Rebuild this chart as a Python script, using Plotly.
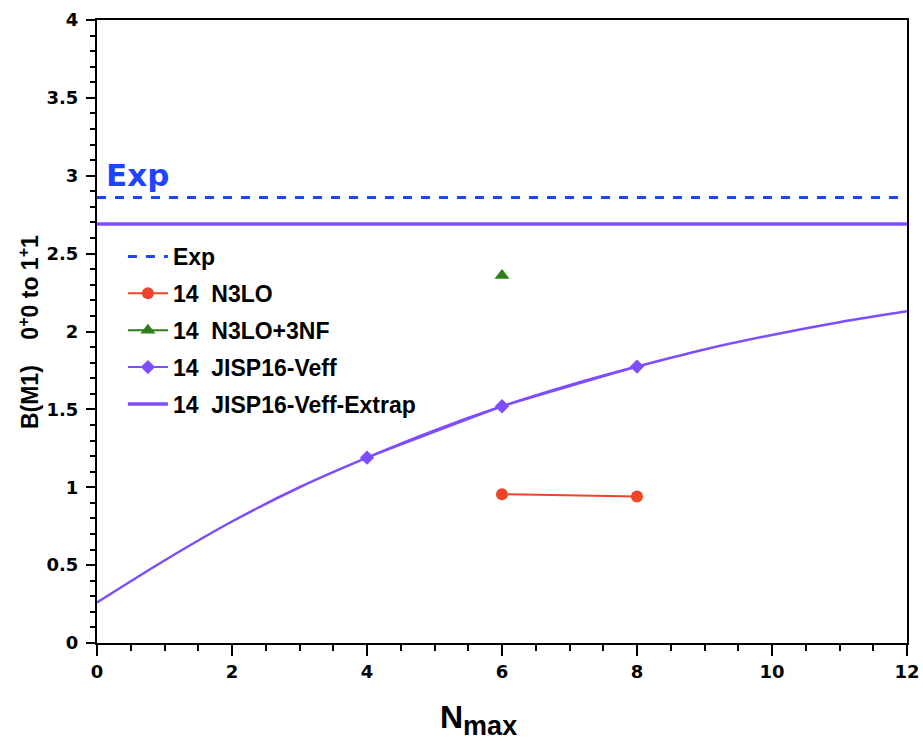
import plotly.graph_objects as go

# Nmax grid and B(M1) results
exp_value = 2.86
extrap_limit = 2.69

n3lo_nmax = [6, 8]
n3lo_bm1 = [0.955, 0.94]

n3lo3nf_nmax = [6]
n3lo3nf_bm1 = [2.36]

jisp_nmax = [4, 6, 8]
jisp_bm1 = [1.19, 1.52, 1.775]

# extrapolation curve, sampled at each Nmax
curve_nmax = [0, 1, 2, 3, 4, 5, 6, 7, 8, 9, 10, 11, 12]
curve_bm1 = [0.26, 0.53, 0.78, 1.0, 1.19, 1.365, 1.52, 1.655, 1.775, 1.885, 1.978, 2.06, 2.13]

x_range = [0, 12]
x_ticks = [0, 2, 4, 6, 8, 10, 12]
x_tick_labels = ["0", "2", "4", "6", "8", "10", "12"]
y_ticks = [0, 0.5, 1, 1.5, 2, 2.5, 3, 3.5, 4]
y_tick_labels = ["0", "0.5", "1", "1.5", "2", "2.5", "3", "3.5", "4"]

BLUE = "#1f44ff"
PURPLE = "#7d4dff"
RED = "#ec4528"
GREEN = "#2f7d18"
FONT = "Liberation Sans, Arial, Helvetica, sans-serif"
WIDE = "DejaVu Sans, Verdana, sans-serif"


def bold(s):
    return "<b>" + s + "</b>"


fig = go.Figure()

fig.add_trace(go.Scatter(
    x=x_range, y=[exp_value, exp_value], mode="lines", name=bold("Exp"), legendgroup="a",
    line=dict(color=BLUE, width=3, dash="dash"),
))
fig.add_trace(go.Scatter(
    x=n3lo_nmax, y=n3lo_bm1, mode="lines+markers", name=bold("14  N3LO"), legendgroup="b",
    line=dict(color=RED, width=2), marker=dict(symbol="circle", size=12, color=RED),
))
fig.add_trace(go.Scatter(
    x=n3lo3nf_nmax, y=n3lo3nf_bm1, mode="lines+markers", name=bold("14  N3LO+3NF"), legendgroup="c",
    line=dict(color=GREEN, width=2), marker=dict(symbol="triangle-up", size=13, color=GREEN),
))
fig.add_trace(go.Scatter(
    x=jisp_nmax, y=jisp_bm1, mode="lines+markers", name=bold("14  JISP16-Veff"), legendgroup="d",
    line=dict(color=PURPLE, width=2), marker=dict(symbol="diamond", size=11, color=PURPLE),
))
fig.add_trace(go.Scatter(
    x=x_range, y=[extrap_limit, extrap_limit], mode="lines", name=bold("14  JISP16-Veff-Extrap"), legendgroup="e",
    line=dict(color=PURPLE, width=3.5),
))
fig.add_trace(go.Scatter(
    x=curve_nmax, y=curve_bm1, mode="lines", showlegend=False,
    line=dict(color=PURPLE, width=2.5, shape="spline", smoothing=1.0),
))

fig.add_annotation(
    x=0.1, y=2.875, xref="x", yref="y", text=bold("Exp"), showarrow=False,
    xanchor="left", yanchor="bottom",
    font=dict(family=WIDE, size=31, color=BLUE),
)
fig.add_annotation(
    x=0.421, y=-0.086, xref="paper", yref="paper",
    text=bold("N<sub><span style='font-size:27px'>max</span></sub>"), showarrow=False,
    xanchor="left", yanchor="top",
    font=dict(family=FONT, size=32, color="black"),
)
fig.add_annotation(
    x=-0.084, y=0.499, xref="paper", yref="paper",
    text=bold("B(M1)    0<sup>+</sup>0 to 1<sup>+</sup>1"), showarrow=False, textangle=-90,
    xanchor="center", yanchor="middle",
    font=dict(family=FONT, size=23, color="black"),
)

axis_common = dict(
    showline=True, linecolor="black", linewidth=2, mirror=True,
    ticks="outside", tickcolor="black", tickwidth=2,
    showgrid=False, zeroline=False, automargin=False,
    tickfont=dict(family=WIDE, size=18, color="black"),
)

fig.update_xaxes(
    range=x_range, tickmode="array", tickvals=x_ticks,
    ticktext=[bold(t) for t in x_tick_labels], ticklen=11,
    minor=dict(dtick=0.5, tick0=0, ticks="outside", ticklen=6, tickcolor="black", tickwidth=2),
    **axis_common,
)
fig.update_yaxes(
    range=[0, 4], tickmode="array", tickvals=y_ticks,
    ticktext=[bold(t) for t in y_tick_labels], ticklen=9, ticklabelstandoff=4,
    minor=dict(dtick=0.1, tick0=0, ticks="outside", ticklen=5, tickcolor="black", tickwidth=2),
    **axis_common,
)

fig.update_layout(
    width=923, height=741,
    margin=dict(l=97, r=16, t=20, b=98),
    plot_bgcolor="white", paper_bgcolor="white",
    showlegend=True,
    legend=dict(
        x=0.032, y=0.655, xanchor="left", yanchor="top",
        bgcolor="rgba(0,0,0,0)", tracegroupgap=4,
        font=dict(family=FONT, size=23, color="black"),
        itemwidth=40,
    ),
)

fig.write_html("out.html")
